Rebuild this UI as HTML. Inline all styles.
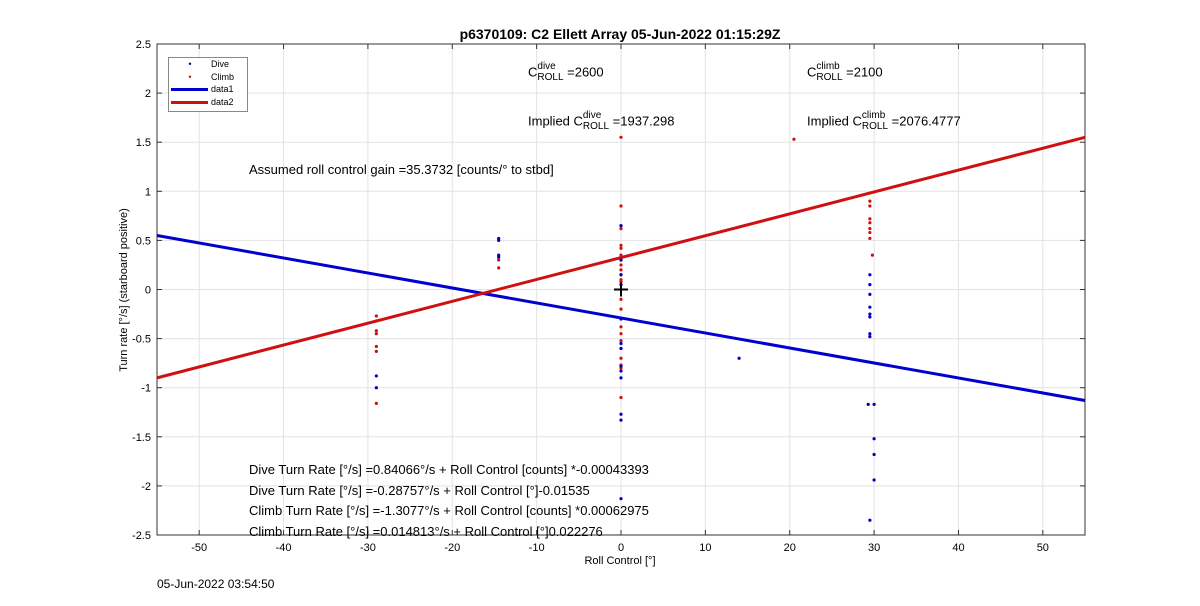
<!DOCTYPE html>
<html><head><meta charset="utf-8"><style>
body{margin:0;background:#fff;font-family:"Liberation Sans",sans-serif}
svg text{font-family:"Liberation Sans",sans-serif}
.st{display:inline-block;vertical-align:middle;font-size:10px;line-height:11px;text-align:left;position:relative;top:-1px}
</style></head><body>
<svg id="chart" width="1200" height="601"></svg>
<script>
const xTicks=[-50,-40,-30,-20,-10,0,10,20,30,40,50];
const yTicks=[2.5,2,1.5,1,0.5,0,-0.5,-1,-1.5,-2,-2.5];
const diveX=[-29,-29,-14.5,-14.5,-14.5,-14.5,0,0,0,0,0,0,0,0,0,0,0,0,0,14,29.5,29.5,29.5,29.5,29.5,29.5,29.5,29.5,29.3,30,30,30,30,29.5];
const diveY=[-0.88,-1.0,0.52,0.5,0.35,0.33,0.65,0.3,0.15,0.05,-0.3,-0.55,-0.6,-0.78,-0.83,-0.9,-1.27,-1.33,-2.13,-0.7,0.15,0.05,-0.05,-0.18,-0.25,-0.28,-0.45,-0.48,-1.17,-1.17,-1.52,-1.68,-1.94,-2.35];
const climbX=[-29,-29,-29,-29,-29,-29,-29,-14.5,-14.5,0,0,0,0,0,0,0,0,0,0,0,0,0,0,0,0,0,0,0,0,0,0,0,0,20.5,29.5,29.5,29.5,29.5,29.5,29.5,29.5,29.8];
const climbY=[-0.27,-0.32,-0.42,-0.45,-0.58,-0.63,-1.16,0.3,0.22,1.55,0.85,0.65,0.62,0.45,0.42,0.35,0.3,0.25,0.2,0.15,0.1,0.08,-0.1,-0.2,-0.3,-0.38,-0.45,-0.52,-0.6,-0.7,-0.77,-0.8,-1.1,1.53,0.9,0.85,0.72,0.68,0.62,0.58,0.52,0.35];
const lineX=[-55,55];
const diveLineY=[0.55,-1.13];
const climbLineY=[-0.9,1.55];
const L=157,R=1085,T=44,B=535;
const sx=v=>L+(v+55)/110*(R-L);
const sy=v=>T+(2.5-v)/5*(B-T);
const svg=document.getElementById('chart');
const NS='http://www.w3.org/2000/svg';
function mk(tag,attrs,parent){const e=document.createElementNS(NS,tag);for(const k in attrs)e.setAttribute(k,attrs[k]);(parent||svg).appendChild(e);return e;}
function txt(s,x,y,attrs){const e=mk('text',Object.assign({x:x,y:y,'font-size':12,fill:'#000'},attrs||{}));e.textContent=s;return e;}
const grid=mk('g',{});


xTicks.forEach(v=>{mk('line',{x1:sx(v),x2:sx(v),y1:T,y2:B,stroke:'#e3e3e3'},grid);mk('line',{x1:sx(v),x2:sx(v),y1:B,y2:B-5,stroke:'#333'},grid);mk('line',{x1:sx(v),x2:sx(v),y1:T,y2:T+5,stroke:'#333'},grid);
const t=txt(String(v),sx(v),B+16,{'text-anchor':'middle','font-size':11});});
yTicks.forEach(v=>{mk('line',{x1:L,x2:R,y1:sy(v),y2:sy(v),stroke:'#e3e3e3'},grid);mk('line',{x1:L,x2:L+5,y1:sy(v),y2:sy(v),stroke:'#333'},grid);mk('line',{x1:R,x2:R-5,y1:sy(v),y2:sy(v),stroke:'#333'},grid);
const t=txt(String(v),L-6,sy(v)+4,{'text-anchor':'end','font-size':11});});
const frame=mk('rect',{x:L,y:T,width:R-L,height:B-T,fill:'none',stroke:'#333'});


const dl=mk('line',{x1:sx(lineX[0]),y1:sy(diveLineY[0]),x2:sx(lineX[1]),y2:sy(diveLineY[1]),stroke:'#0000d0','stroke-width':3});


const cl=mk('line',{x1:sx(lineX[0]),y1:sy(climbLineY[0]),x2:sx(lineX[1]),y2:sy(climbLineY[1]),stroke:'#d01010','stroke-width':3});


climbX.forEach((x,i)=>{const c=mk('circle',{cx:sx(x),cy:sy(climbY[i]),r:1.6,fill:'#d01010'});});
diveX.forEach((x,i)=>{const c=mk('circle',{cx:sx(x),cy:sy(diveY[i]),r:1.6,fill:'#0000c0'});});
const cr=mk('g',{stroke:'#000','stroke-width':2});


mk('line',{x1:sx(0)-7,x2:sx(0)+7,y1:sy(0),y2:sy(0)},cr);mk('line',{x1:sx(0),x2:sx(0),y1:sy(0)-7,y2:sy(0)+7},cr);
</script>
<div style="position:absolute;left:0;top:0;width:1200px;height:601px;pointer-events:none;font-size:13px">
<div style="position:absolute;left:0;width:1240px;top:26px;text-align:center;font-weight:bold;font-size:14px">p6370109: C2 Ellett Array 05-Jun-2022 01:15:29Z</div>
<div style="position:absolute;left:168px;top:57px;width:78px;height:53px;border:1px solid #888;background:#fff;font-size:9px;line-height:12.5px">
<div><span style="display:inline-block;width:42px;text-align:center;color:#00c">•</span>Dive</div>
<div><span style="display:inline-block;width:42px;text-align:center;color:#d01010">•</span>Climb</div>
<div><span style="display:inline-block;width:37px;height:3px;background:#0000d0;vertical-align:middle;margin:0 3px 0 2px"></span>data1</div>
<div><span style="display:inline-block;width:37px;height:3px;background:#d01010;vertical-align:middle;margin:0 3px 0 2px"></span>data2</div>
</div>
<div style="position:absolute;left:528px;top:62px">C<span class="st">dive<br>ROLL</span> =2600</div>
<div style="position:absolute;left:807px;top:62px">C<span class="st">climb<br>ROLL</span> =2100</div>
<div style="position:absolute;left:528px;top:111px">Implied C<span class="st">dive<br>ROLL</span> =1937.298</div>
<div style="position:absolute;left:807px;top:111px">Implied C<span class="st">climb<br>ROLL</span> =2076.4777</div>
<div style="position:absolute;left:249px;top:162px">Assumed roll control gain =35.3732 [counts/° to stbd]</div>
<div style="position:absolute;left:249px;top:460px;line-height:20.5px">
<div>Dive Turn Rate [°/s] =0.84066°/s + Roll Control [counts] *-0.00043393</div>
<div>Dive Turn Rate [°/s] =-0.28757°/s + Roll Control [°]-0.01535</div>
<div>Climb Turn Rate [°/s] =-1.3077°/s + Roll Control [counts] *0.00062975</div>
<div>Climb Turn Rate [°/s] =0.014813°/s + Roll Control [°]0.022276</div>
</div>
<div style="position:absolute;left:0;width:1240px;top:555px;text-align:center;font-size:11px">Roll Control [°]</div>
<div style="position:absolute;left:124px;top:290px;font-size:11px;transform:translate(-50%,-50%) rotate(-90deg);white-space:nowrap">Turn rate [°/s] (starboard positive)</div>
<div style="position:absolute;left:157px;top:577px;font-size:12px">05-Jun-2022 03:54:50</div>
</div>
</body></html>
